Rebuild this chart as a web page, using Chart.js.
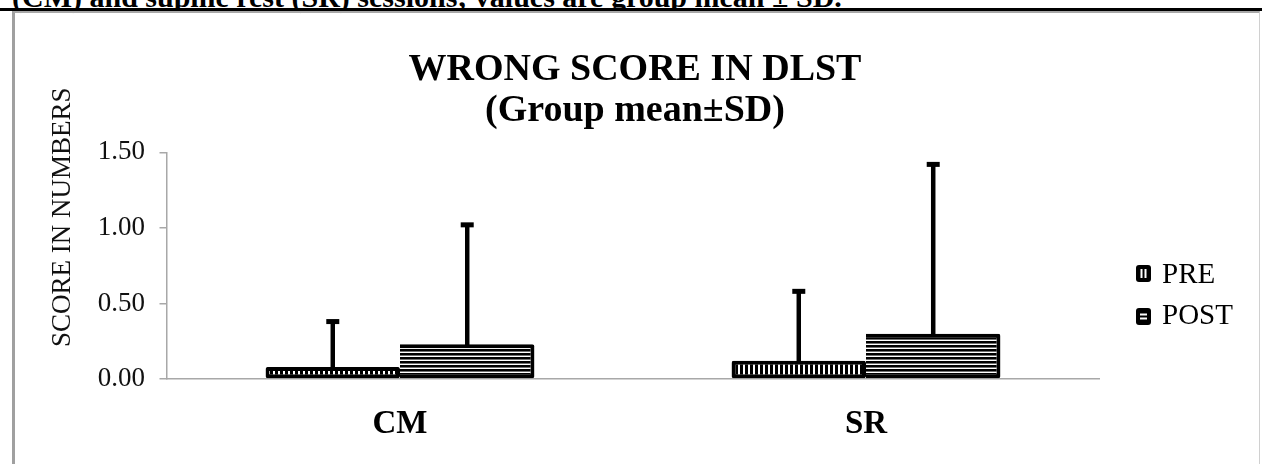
<!DOCTYPE html>
<html>
<head>
<meta charset="utf-8">
<script src="https://cdn.jsdelivr.net/npm/chart.js@4.4.1/dist/chart.umd.min.js"></script>
<style>
  html, body { margin: 0; padding: 0; background: #fff; width: 1262px; height: 464px; overflow: hidden; position: relative; }
  #caption { position: absolute; left: 12px; top: -18px; font: bold 30px "Liberation Serif", "Times New Roman", serif; line-height: 30px; white-space: nowrap; color: #000; }
  #rule { position: absolute; left: 0; top: 8px; width: 1262px; height: 3px; background: #000; }
  #frame { position: absolute; left: 12px; top: 11px; width: 1244px; height: 470px; border-left: 3px solid #a0a0a0; border-top: 2px solid #a8a8a8; border-right: 1px solid #d0d0d0; }
  #wrap { position: absolute; left: 15px; top: 13px; width: 1244px; height: 451px; }
</style>
</head>
<body>
<div id="caption">(CM) and supine rest (SR) sessions; values are group mean ± SD.</div>
<div id="rule"></div>
<div id="frame"></div>
<div id="wrap"><canvas id="chart"></canvas></div>
<script>
// Wrong scores in the DLST, group mean and SD per session
const categories = ['CM', 'SR'];
const seriesNames = ['PRE', 'POST'];
const preMean = [0.08, 0.12];
const preSD = [0.30, 0.46];
const postMean = [0.23, 0.30];
const postSD = [0.79, 1.12];
const yTickValues = [0, 0.5, 1.0, 1.5];
const titleLines = ['WRONG SCORE IN DLST', '(Group mean±SD)'];
const yAxisTitle = 'SCORE IN NUMBERS';

const SERIF = '"Liberation Serif", "Times New Roman", serif';

// Black-and-white hatch fills: vertical stripes for PRE, horizontal for POST
function hatch(vertical) {
  const c = document.createElement('canvas');
  const g = c.getContext('2d');
  if (vertical) {
    c.width = 5; c.height = 8;
    g.fillStyle = '#fff'; g.fillRect(0, 0, 5, 8);
    g.fillStyle = '#000'; g.fillRect(0, 0, 3, 8);
  } else {
    c.width = 8; c.height = 4;
    g.fillStyle = '#fff'; g.fillRect(0, 0, 8, 4);
    g.fillStyle = '#000'; g.fillRect(0, 0, 8, 2);
    g.fillStyle = '#707070'; g.fillRect(0, 2, 8, 1);
  }
  return g.createPattern(c, 'repeat');
}

const sdByDataset = [preSD, postSD];

// Upward error bars with a short cap
const errorBars = {
  id: 'errorBars',
  afterDatasetsDraw(chart) {
    const ctx = chart.ctx;
    const y = chart.scales.y;
    ctx.save();
    chart.data.datasets.forEach((ds, d) => {
      const meta = chart.getDatasetMeta(d);
      meta.data.forEach((bar, i) => {
        const top = y.getPixelForValue(ds.data[i] + sdByDataset[d][i]);
        ctx.strokeStyle = '#000';
        ctx.lineWidth = 4.5;
        ctx.beginPath();
        ctx.moveTo(bar.x, bar.y + 1);
        ctx.lineTo(bar.x, top);
        ctx.stroke();
        ctx.fillStyle = '#000';
        ctx.fillRect(bar.x - 6.5, top - 2.5, 13, 5);
      });
    });
    ctx.restore();
  }
};

// Two-line title, rotated y-axis title and the side legend
const annotations = {
  id: 'annotations',
  afterDraw(chart) {
    const ctx = chart.ctx;
    const area = chart.chartArea;
    ctx.save();
    ctx.fillStyle = '#000';
    ctx.textAlign = 'center';
    ctx.textBaseline = 'alphabetic';
    ctx.font = 'bold 38px ' + SERIF;
    const cx = (area.left + area.right) / 2 + 2;
    ctx.fillText(titleLines[0], cx, 67);
    ctx.fillText(titleLines[1], cx, 108);

    ctx.save();
    ctx.translate(55, 334);
    ctx.rotate(-Math.PI / 2);
    ctx.textAlign = 'left';
    ctx.font = '27px ' + SERIF;
    ctx.fillStyle = '#111';
    ctx.fillText(yAxisTitle, 0, 0);
    ctx.restore();

    // legend
    const items = [
      { name: seriesNames[0], boxY: 252, baseY: 270, vertical: true },
      { name: seriesNames[1], boxY: 295, baseY: 311, vertical: false }
    ];
    ctx.textAlign = 'left';
    ctx.font = '29px ' + SERIF;
    items.forEach(it => {
      const bx = 1121, bw = 15, bh = 17;
      ctx.fillStyle = '#000';
      ctx.beginPath();
      ctx.roundRect(bx, it.boxY, bw, bh, 3);
      ctx.fill();
      ctx.fillStyle = '#fff';
      if (it.vertical) {
        ctx.fillRect(bx + 4.5, it.boxY + 4, 2, bh - 8);
        ctx.fillRect(bx + 8.5, it.boxY + 4, 2, bh - 8);
      } else {
        ctx.fillRect(bx + 4, it.boxY + 5.5, bw - 8, 2);
        ctx.fillRect(bx + 4, it.boxY + 9.5, bw - 8, 2);
      }
      ctx.fillStyle = '#000';
      ctx.fillText(it.name, 1147, it.baseY);
    });
    ctx.restore();
  }
};

new Chart(document.getElementById('chart'), {
  type: 'bar',
  data: {
    labels: categories,
    datasets: [
      {
        label: seriesNames[0],
        data: preMean,
        backgroundColor: hatch(true),
        borderColor: '#000',
        borderWidth: 4,
        borderSkipped: false,
        borderRadius: 2,
        categoryPercentage: 0.577,
        barPercentage: 1.0
      },
      {
        label: seriesNames[1],
        data: postMean,
        backgroundColor: hatch(false),
        borderColor: '#000',
        borderWidth: 4,
        borderSkipped: 'left',
        borderRadius: 2,
        categoryPercentage: 0.577,
        barPercentage: 1.0
      }
    ]
  },
  options: {
    responsive: true,
    maintainAspectRatio: false,
    animation: false,
    events: [],
    layout: { padding: { top: 139.3, right: 160, bottom: 0, left: 0 } },
    plugins: {
      legend: { display: false },
      title: { display: false },
      tooltip: { enabled: false }
    },
    scales: {
      x: {
        grid: { display: true, drawOnChartArea: false, drawTicks: false },
        border: { display: true, color: '#a8a8a8', width: 1.5 },
        ticks: {
          color: '#000',
          padding: 26,
          font: { family: SERIF, size: 33, weight: 'bold' }
        },
        afterFit(scale) { scale.height = 85; }
      },
      y: {
        min: 0,
        max: 1.5,
        afterBuildTicks(scale) { scale.ticks = yTickValues.map(v => ({ value: v })); },
        grid: { drawOnChartArea: false, drawTicks: true, tickLength: 7.5, color: '#a8a8a8', lineWidth: 1.5 },
        border: { display: true, color: '#a8a8a8', width: 1.5 },
        ticks: {
          color: '#111',
          padding: 14.5,
          font: { family: SERIF, size: 27 },
          callback: v => Number(v).toFixed(2)
        },
        afterFit(scale) { scale.width = 152; }
      }
    }
  },
  plugins: [errorBars, annotations]
});
</script>
</body>
</html>
